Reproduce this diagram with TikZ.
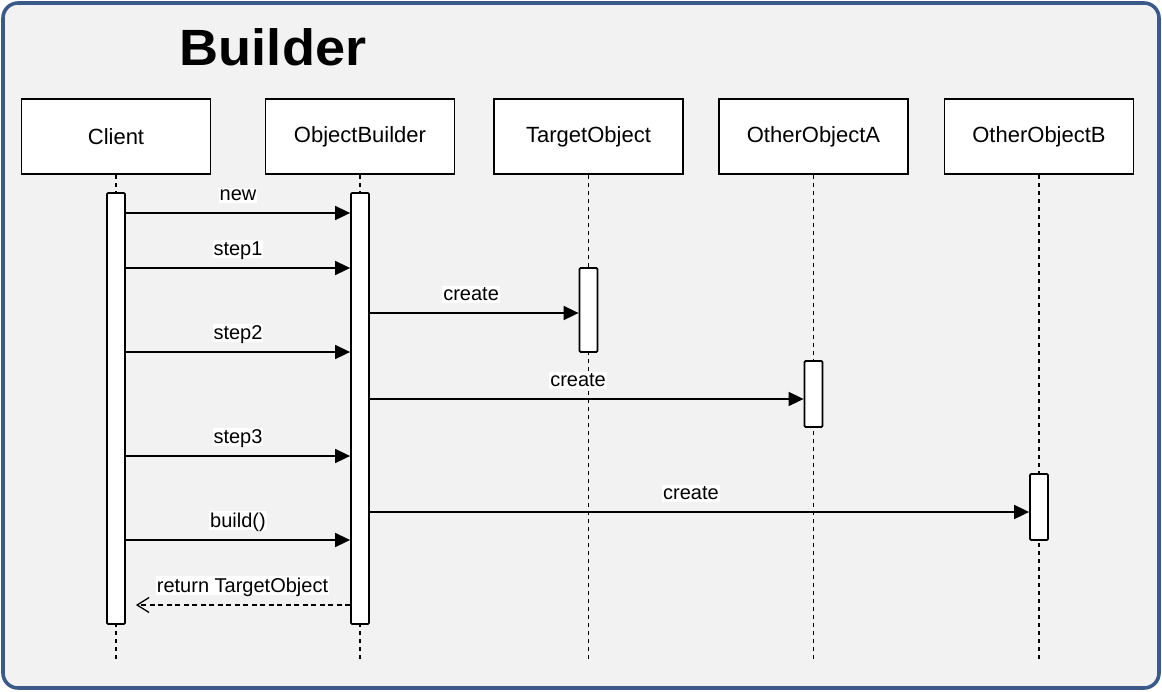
\documentclass[tikz,border=0pt]{standalone}
\usepackage{fontspec}
\setmainfont{Liberation Sans}
\usetikzlibrary{arrows.meta}
\definecolor{framec}{RGB}{59,90,138}
\definecolor{bgc}{RGB}{242,242,242}
\tikzset{
  objbox/.style={draw=black, fill=white, line width=1.8pt, minimum width=189pt, minimum height=75pt, inner sep=0pt, font=\fontsize{22}{24}\selectfont},
  actbar/.style={draw=black, fill=white, line width=1.8pt, minimum width=18pt, inner sep=0pt, rounded corners=1.2pt},
  lifeline/.style={line width=1.9pt, dash pattern=on 4pt off 4pt},
  msg/.style={line width=1.7pt, -{Triangle[length=15pt,width=14pt]}},
  ret/.style={line width=1.7pt, dash pattern=on 5pt off 3.5pt, -{Straight Barb[length=12pt,width=15pt,line width=1.3pt]}},
  lbl/.style={fill=white, inner xsep=1pt, inner ysep=2pt, anchor=base, yshift=12.5pt, font=\fontsize{20}{22}\selectfont, text depth=0pt}
}
\begin{document}
\begin{tikzpicture}[x=1pt,y=-1pt]
\useasboundingbox (0,0) rectangle (1162,691);
\draw[line width=3.6pt, draw=framec, fill=bgc, rounded corners=15pt] (3,3) rectangle (1159,688);
\node[font=\fontsize{51}{56}\selectfont\bfseries, anchor=base, xscale=1.06] (title) at (273,65) {Builder};

\node[objbox] (client) at (116,136.5) {Client};
\node[objbox] (ob) at (360,136.5) {ObjectBuilder};
\node[objbox] (to) at (588.5,136.5) {TargetObject};
\node[objbox] (oa) at (813.5,136.5) {OtherObjectA};
\node[objbox] (obb) at (1039,136.5) {OtherObjectB};

\coordinate (cend) at (116,662);
\coordinate (obend) at (360,662);
\coordinate (toend) at (588.5,662);
\coordinate (oaend) at (813.5,662);
\coordinate (obbend) at (1039,662);
\draw[lifeline] (client.south) -- (cend);
\draw[lifeline] (ob.south) -- (obend);
\draw[lifeline] (to.south) -- (toend);
\draw[lifeline] (oa.south) -- (oaend);
\draw[lifeline] (obb.south) -- (obbend);

\node[actbar, minimum height=431pt] (cbar) at (116,408.5) {};
\node[actbar, minimum height=431pt] (obbar) at (360,408.5) {};
\node[actbar, minimum height=84pt] (tbar) at (588.5,310) {};
\node[actbar, minimum height=66pt] (abar) at (813.5,394) {};
\node[actbar, minimum height=66pt] (bbar) at (1039,507) {};

\draw[msg] (cbar.east |- 0,213) -- node[lbl] {new} (obbar.west |- 0,213);
\draw[msg] (cbar.east |- 0,268) -- node[lbl] {step1} (obbar.west |- 0,268);
\draw[msg] (obbar.east |- 0,313) -- node[lbl, pos=0.485] {create} (tbar.west |- 0,313);
\draw[msg] (cbar.east |- 0,352) -- node[lbl] {step2} (obbar.west |- 0,352);
\draw[msg] (obbar.east |- 0,399) -- node[lbl, pos=0.48] {create} (abar.west |- 0,399);
\draw[msg] (cbar.east |- 0,456) -- node[lbl] {step3} (obbar.west |- 0,456);
\draw[msg] (obbar.east |- 0,512) -- node[lbl, pos=0.487] {create} (bbar.west |- 0,512);
\draw[msg] (cbar.east |- 0,540) -- node[lbl] {build()} (obbar.west |- 0,540);
\draw[ret, shorten >=10pt] (obbar.west |- 0,605) -- node[lbl, pos=0.48] {return TargetObject} (cbar.east |- 0,605);
\end{tikzpicture}
\end{document}
